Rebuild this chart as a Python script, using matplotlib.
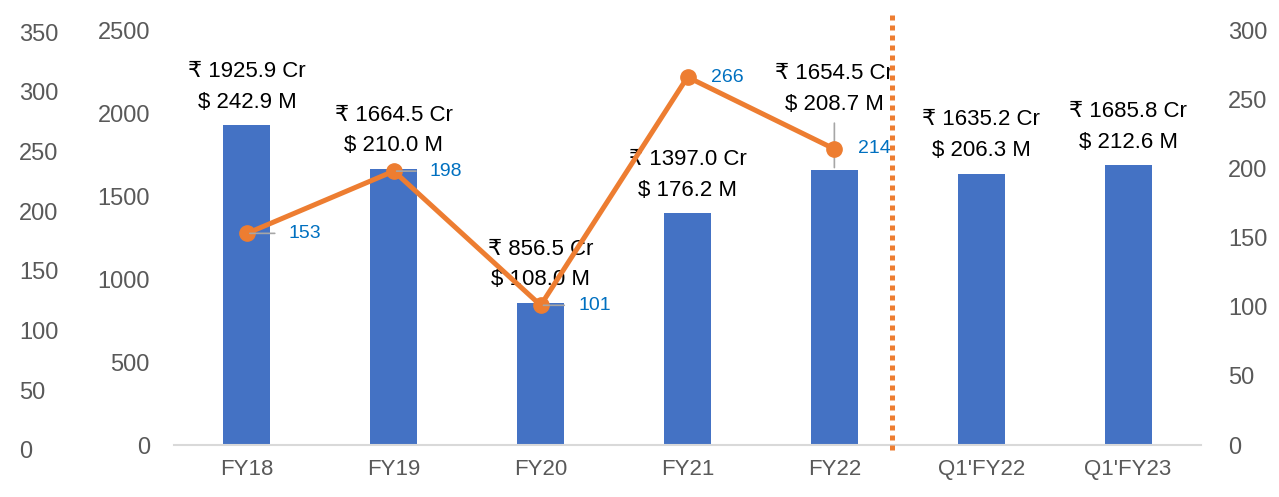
import matplotlib
matplotlib.use('Agg')
import matplotlib.pyplot as plt

plt.rcParams['font.family'] = ['Liberation Sans Narrow', 'Liberation Sans', 'DejaVu Sans']

categories = ['FY18', 'FY19', 'FY20', 'FY21', 'FY22', "Q1'FY22", "Q1'FY23"]
revenue_cr = [1925.9, 1664.5, 856.5, 1397.0, 1654.5, 1635.2, 1685.8]
revenue_usd = [242.9, 210.0, 108.0, 176.2, 208.7, 206.3, 212.6]
line_cats = ['FY18', 'FY19', 'FY20', 'FY21', 'FY22']
line_vals = [153, 198, 101, 266, 214]

blue = '#4472C4'
orange = '#ED7D31'
grey = '#595959'

fig = plt.figure(figsize=(12.79, 4.97), dpi=100)
ax = fig.add_axes([0.1357, 0.1046, 0.8037, 0.835])
ax2 = ax.twinx()

x = list(range(len(categories)))
ax.bar(x, revenue_cr, width=0.32, color=blue, zorder=2)
ax.set_xlim(-0.5, 6.5)
ax.set_ylim(0, 2500)
ax.set_yticks(range(0, 2501, 500))
ax.set_xticks(x)
ax.set_xticklabels(categories)
ax.tick_params(axis='y', length=0, pad=17, labelsize=17, labelcolor=grey)
ax.tick_params(axis='x', length=0, pad=10, labelsize=16, labelcolor=grey)
for s in ['top', 'left', 'right']:
    ax.spines[s].set_visible(False)
ax.spines['bottom'].set_color('#D9D9D9')
ax.spines['bottom'].set_linewidth(1.5)

# bar labels (FY22 label pushed up with a leader line)
for i, (cr, usd) in enumerate(zip(revenue_cr, revenue_usd)):
    off = 9
    if categories[i] == 'FY22':
        off = 40
        ax.annotate('', xy=(i, cr), xytext=(0, 36), textcoords='offset points',
                    arrowprops=dict(arrowstyle='-', color='#A6A6A6', lw=1.2))
    ax.annotate(f'₹ {cr:.1f} Cr\n$ {usd:.1f} M', xy=(i, cr), xytext=(0, off),
                textcoords='offset points', ha='center', va='bottom',
                fontsize=16, color='black', linespacing=1.6)

# line on right axis
lx = [categories.index(c) for c in line_cats]
ax2.plot(lx, line_vals, color=orange, lw=3.6, marker='o', markersize=11,
         solid_capstyle='round', zorder=3)
ax2.set_ylim(0, 300)
ax2.set_yticks(range(0, 301, 50))
ax2.tick_params(axis='y', length=0, pad=19, labelsize=17, labelcolor=grey)
for s in ax2.spines.values():
    s.set_visible(False)

leader = {'FY18': 22, 'FY19': 18, 'FY20': 19, 'FY21': 0, 'FY22': 0}
for xi, c, v in zip(lx, line_cats, line_vals):
    L = leader[c]
    if L:
        ax2.annotate('', xy=(xi, v), xytext=(L, 0), textcoords='offset points',
                     arrowprops=dict(arrowstyle='-', color='#A6A6A6', lw=1.2))
    ax2.annotate(str(v), xy=(xi, v), xytext=(L + 8 if L else 17, 0),
                 textcoords='offset points', ha='left', va='center',
                 fontsize=14, color='#0070C0')

# separator between yearly and quarterly figures
ax2.axvline(4.39, ymin=-0.012, ymax=1.04, color=orange, lw=3.6,
            linestyle=(0, (1, 1)), clip_on=False, zorder=4)

# extra outer axis on the far left
ax3 = fig.add_axes([0.0149, 0.0946, 0.0001, 0.841])
ax3.set_ylim(0, 350)
ax3.set_yticks(range(0, 351, 50))
ax3.set_xticks([])
ax3.yaxis.tick_right()
ax3.tick_params(axis='y', length=0, pad=0, labelsize=17, labelcolor=grey)
for s in ax3.spines.values():
    s.set_visible(False)
ax3.patch.set_visible(False)

fig.savefig('out.png', dpi=100)
